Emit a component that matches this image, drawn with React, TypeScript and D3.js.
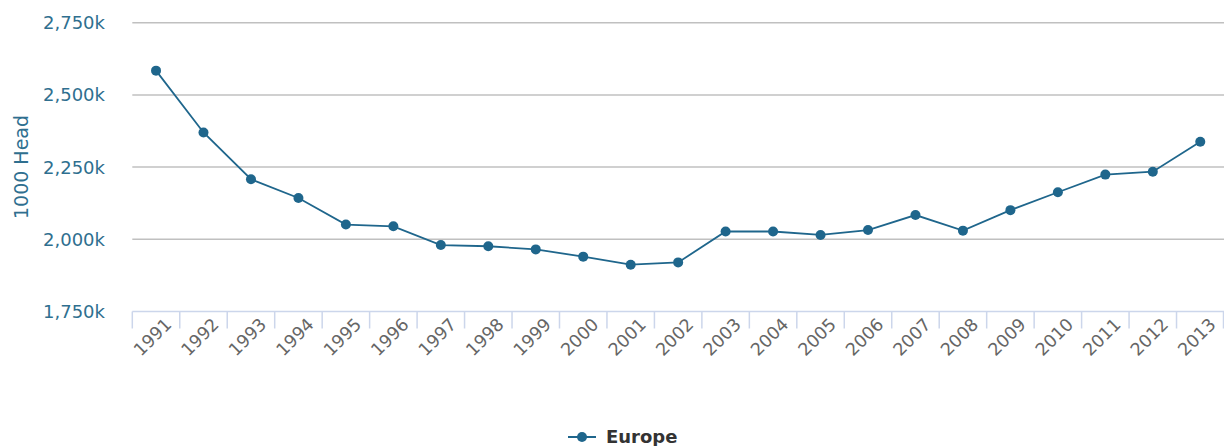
import React from "react";
import * as d3 from "d3";

const years = ["1991","1992","1993","1994","1995","1996","1997","1998","1999","2000","2001","2002","2003","2004","2005","2006","2007","2008","2009","2010","2011","2012","2013"];
const europe = [2584, 2370, 2208, 2143, 2051, 2045, 1980, 1976, 1965, 1940, 1912, 1920, 2027, 2027, 2015, 2032, 2084, 2030, 2101, 2163, 2224, 2234, 2338];
const yTicks = [1750, 2000, 2250, 2500, 2750];
const seriesName = "Europe";
const yTitle = "1000 Head";

const W = 1224, H = 446;
const left = 132.3, right = 1224, top = 22.7, bottom = 311.5;
const font = "DejaVu Sans, Verdana, sans-serif";
const lineColor = "#1f668c";
const labelColor = "#2f6f8f";

export default function App() {
  const x = d3.scaleBand<string>().domain(years).range([left, right]);
  const y = d3.scaleLinear().domain([1750, 2750]).range([bottom, top]);
  const fmt = d3.format(",");
  const line = d3.line<number>()
    .x((_, i) => (x(years[i]) as number) + x.bandwidth() / 2)
    .y(d => y(d));
  const boundaries = years.map(yr => x(yr) as number).concat([right - 0.5]);
  return (
    <svg width={W} height={H} style={{ position: "absolute", left: 0, top: 0 }} fontFamily={font}>
      <rect width={W} height={H} fill="#fff" />
      {yTicks.map(t => (
        <g key={t}>
          {t !== 1750 && <line x1={left} x2={right} y1={y(t)} y2={y(t)} stroke="#c0c0c0" strokeWidth={1.5} />}
          <text x={105} y={y(t)} dy="0.36em" textAnchor="end" fontSize={18} fill={labelColor}>{fmt(t)}k</text>
        </g>
      ))}
      <text transform={`translate(28,167) rotate(-90)`} textAnchor="middle" fontSize={19} fill={labelColor}>{yTitle}</text>
      <line x1={left} x2={right} y1={bottom} y2={bottom} stroke="#ccd6eb" strokeWidth={1.5} />
      {boundaries.map((b, i) => (
        <line key={i} x1={b} x2={b} y1={bottom} y2={bottom + 17} stroke="#ccd6eb" strokeWidth={1.5} />
      ))}
      {years.map(yr => {
        const cx = (x(yr) as number) + x.bandwidth() / 2;
        return (
          <text key={yr} transform={`translate(${cx + 16.5},${bottom + 14}) rotate(-45)`} textAnchor="end" fontSize={17.5} fill="#666">{yr}</text>
        );
      })}
      <path d={line(europe) as string} fill="none" stroke={lineColor} strokeWidth={1.8} />
      {europe.map((v, i) => (
        <circle key={i} cx={(x(years[i]) as number) + x.bandwidth() / 2} cy={y(v)} r={5} fill={lineColor} />
      ))}
      <g>
        <line x1={568} x2={596} y1={437} y2={437} stroke={lineColor} strokeWidth={2} />
        <circle cx={582} cy={437} r={5} fill={lineColor} />
        <text x={606} y={437} dy="0.36em" fontSize={18} fontWeight="bold" fill="#333">{seriesName}</text>
      </g>
    </svg>
  );
}
